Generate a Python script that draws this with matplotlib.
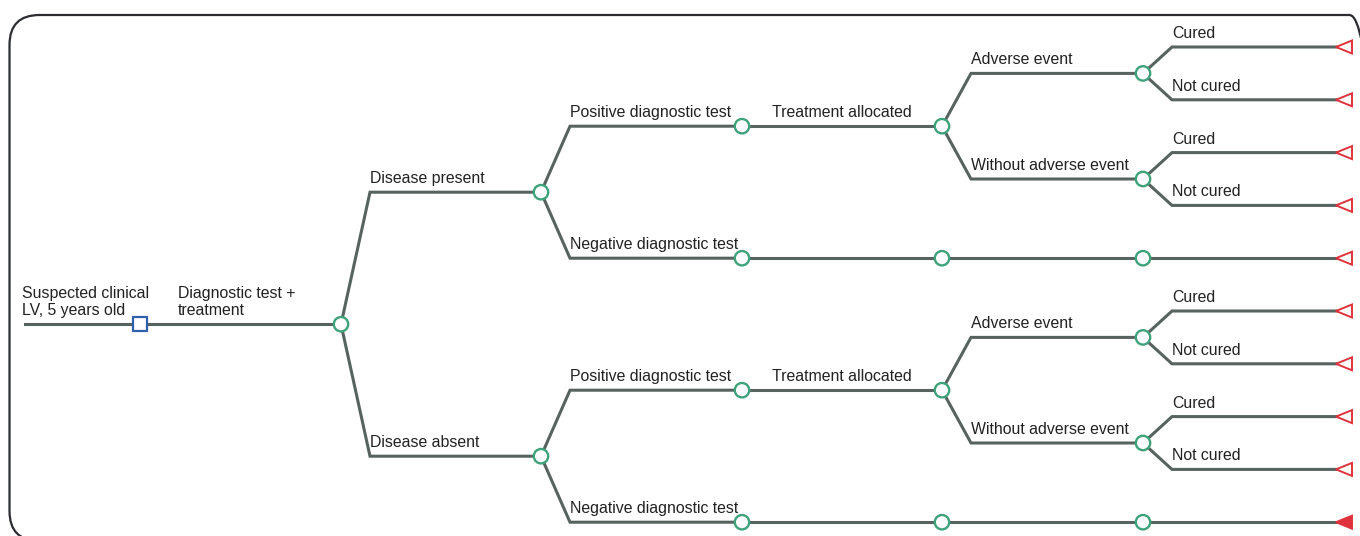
import matplotlib

matplotlib.use("Agg")
import matplotlib.pyplot as plt
from matplotlib.patches import Circle, FancyBboxPatch, Polygon, Rectangle
from matplotlib.transforms import IdentityTransform

# tree: (edge label, node kind, children)
treatment_branch = [
    ("Adverse event", "chance", [("Cured", "terminal", []), ("Not cured", "terminal", [])]),
    ("Without adverse event", "chance", [("Cured", "terminal", []), ("Not cured", "terminal", [])]),
]


def test_branches(last_filled=False):
    end = "terminal_filled" if last_filled else "terminal"
    return [
        ("Positive diagnostic test", "chance", [("Treatment allocated", "chance", treatment_branch)]),
        ("Negative diagnostic test", "chance", [("", "chance", [("", "chance", [("", end, [])])])]),
    ]


tree = ("Suspected clinical\nLV, 5 years old", "decision", [
    ("Diagnostic test +\ntreatment", "chance", [
        ("Disease present", "chance", test_branches()),
        ("Disease absent", "chance", test_branches(last_filled=True)),
    ]),
])

# layout (pixels)
column_x = [140, 341, 541, 742, 942, 1143, 1345]
root_start_x = 25
leaf_top, leaf_gap = 47, 52.8
elbow = 29

line_color = "#56635f"
chance_color = "#3ea27a"
decision_color = "#2f5fae"
terminal_color = "#e0323c"
text_color = "#222222"

plt.rcParams["font.family"] = ["Liberation Sans", "DejaVu Sans"]

figure = plt.figure(figsize=(13.6, 5.36), dpi=100)
axis = figure.add_axes([0, 0, 1, 1])
axis.set_xlim(0, 1360)
axis.set_ylim(536, 0)
axis.axis("off")

leaf_counter = [0]


def layout(node, depth):
    label, kind, children = node
    placed = [layout(child, depth + 1) for child in children]
    if placed:
        y = sum(p["y"] for p in placed) / len(placed)
    else:
        y = leaf_top + leaf_gap * leaf_counter[0]
        leaf_counter[0] += 1
    return {"label": label, "kind": kind, "x": column_x[depth], "y": y, "children": placed}


root = layout(tree, 0)


def draw_label(text, x, y):
    axis.text(x, y - 9, text, fontsize=11.4, color=text_color, ha="left", va="baseline",
              linespacing=1.2, zorder=4)


def draw_node(node):
    x, y, kind = node["x"], node["y"], node["kind"]
    if kind == "decision":
        axis.add_patch(Rectangle((x - 7, y - 7), 14, 14, facecolor="white",
                                 edgecolor=decision_color, lw=1.6, zorder=5))
    elif kind == "chance":
        axis.add_patch(Circle((x, y), 7.2, facecolor="white", edgecolor=chance_color,
                              lw=1.7, zorder=5))
    else:
        filled = kind == "terminal_filled"
        axis.add_patch(Polygon([(x - 9, y), (x + 7, y - 6.5), (x + 7, y + 6.5)], closed=True,
                               facecolor=terminal_color if filled else "white",
                               edgecolor=terminal_color, lw=1.4, zorder=5))


def draw_edges(node):
    px, py = node["x"], node["y"]
    children = node["children"]
    for child in children:
        cx, cy = child["x"], child["y"]
        end_x = cx - 9 if child["kind"].startswith("terminal") else cx
        if len(children) > 1:
            axis.plot([px, px + elbow, end_x], [py, cy, cy], color=line_color, lw=2.2,
                      solid_joinstyle="miter", zorder=2)
            label_x = px + elbow
        else:
            axis.plot([px, end_x], [py, cy], color=line_color, lw=2.2, zorder=2)
            label_x = px + 30 if node["kind"] == "chance" else px + 38
        if child["label"]:
            draw_label(child["label"], label_x, cy)
        draw_edges(child)
    draw_node(node)


# incoming edge of the root
axis.plot([root_start_x, root["x"]], [root["y"], root["y"]], color=line_color, lw=2.2, zorder=2)
draw_label(root["label"], 22, root["y"])
draw_edges(root)

# outer frame, drawn in pixel coordinates (origin bottom-left)
frame = FancyBboxPatch((9.5, -5), 1370, 526, boxstyle="round,pad=0,rounding_size=30",
                       facecolor="none", edgecolor="#2b2d31", lw=1.6,
                       transform=IdentityTransform(), zorder=1)
figure.add_artist(frame)

figure.savefig("out.png", dpi=100)
plt.close(figure)
